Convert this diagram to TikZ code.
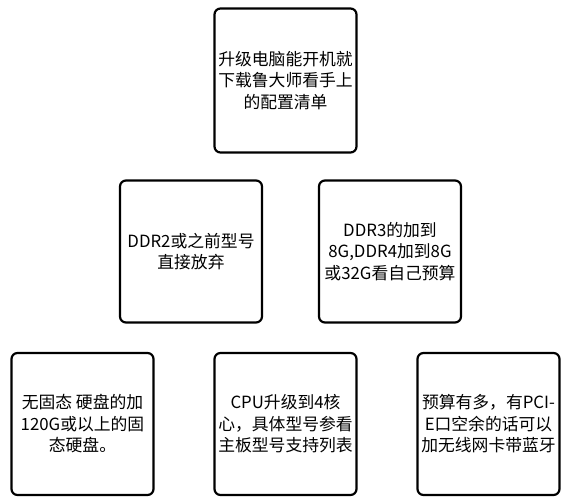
\documentclass[tikz,border=0pt]{standalone}
\usepackage{fontspec}
\setmainfont{Noto Sans CJK SC}

\begin{document}
\begin{tikzpicture}[x=1pt,y=-1pt,
    tipbox/.style={draw, line width=2.2pt, rounded corners=6pt, minimum width=142pt, minimum height=142pt, align=center, inner sep=1pt, font=\fontsize{16.8}{21.5}\selectfont}]
    \useasboundingbox (0,0) rectangle (566,500);
    % top
    \node[tipbox, minimum height=144pt] (check) at (285.5,80.5) {升级电脑能开机就\\下载鲁大师看手上\\的配置清单};
    % memory
    \node[tipbox] (ddrold) at (191,251.5) {DDR2或之前型号\\直接放弃};
    \node[tipbox] (ddrnew) at (390,251.5) {DDR3的加到\\8G,DDR4加到8G\\或32G看自己预算};
    % disk, cpu, wifi
    \node[tipbox] (ssd) at (82.5,424) {无固态 硬盘的加\\120G或以上的固\\态硬盘。};
    \node[tipbox] (cpu) at (285.5,424) {CPU升级到4核\\心，具体型号参看\\主板型号支持列表};
    \node[tipbox] (wifi) at (488.5,424) {预算有多，有PCI-\\E口空余的话可以\\加无线网卡带蓝牙};
\end{tikzpicture}
\end{document}
